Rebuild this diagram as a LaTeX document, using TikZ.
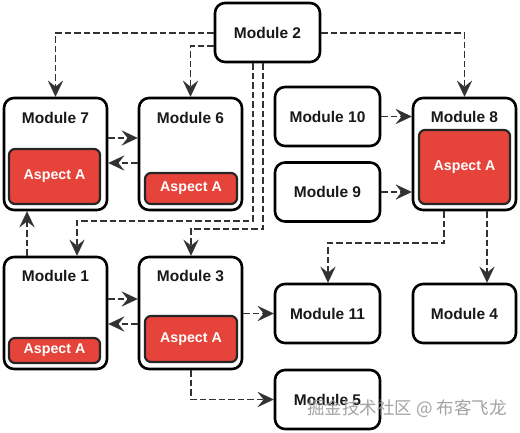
\documentclass[tikz,border=0pt]{standalone}
\usepackage{fontspec}
\setmainfont{Liberation Sans}
\newfontfamily\cjk{Noto Sans CJK SC}
\usetikzlibrary{arrows.meta}
\definecolor{aspectred}{RGB}{230,68,58}
\definecolor{conngray}{RGB}{50,50,50}
\tikzset{
  modbox/.style={draw=black, line width=2.6pt, rounded corners=10pt, fill=white, inner sep=0pt},
  aspbox/.style={draw=black!85, line width=2.2pt, rounded corners=6pt, fill=aspectred, inner sep=0pt,
     text=white, font=\bfseries\fontsize{14.2}{16}\selectfont},
  modtext/.style={font=\bfseries\fontsize{15.5}{17}\selectfont, text=black!90},
  conn/.style={draw=conngray, line width=1.7pt, dash pattern=on 6.5pt off 3pt,
     -{Stealth[length=16pt,width=15pt,inset=6pt,line width=0.1pt,fill=conngray]}},
}
\begin{document}
\begin{tikzpicture}[x=1pt,y=-1pt]
\useasboundingbox[fill=white] (0,0) rectangle (520,432);

% simple modules
\node[modbox, modtext, minimum width=105pt, minimum height=59pt] (m2) at (267.5,32.5) {Module 2};
\node[modbox, modtext, minimum width=105pt, minimum height=59pt] (m10) at (327.5,116.5) {Module 10};
\node[modbox, modtext, minimum width=105pt, minimum height=59pt] (m9) at (327.5,192) {Module 9};
\node[modbox, modtext, minimum width=105pt, minimum height=59pt] (m11) at (327.5,313.5) {Module 11};
\node[modbox, modtext, minimum width=103pt, minimum height=59pt] (m4) at (464.5,313.5) {Module 4};
\node[modbox, modtext, minimum width=105pt, minimum height=59pt] (m5) at (327.5,399.5) {Module 5};

% modules with aspects
\node[modbox, minimum width=103pt, minimum height=112pt] (m7) at (55.5,154) {};
\node[modtext] (t7) at (55.5,118) {Module 7};
\node[aspbox, minimum width=91pt, minimum height=55pt] (a7) at (54.5,176.5) {Aspect A};

\node[modbox, minimum width=103pt, minimum height=112pt] (m6) at (190.5,154) {};
\node[modtext] (t6) at (190.5,118) {Module 6};
\node[aspbox, minimum width=92pt, minimum height=31pt] (a6) at (191,188.5) {Aspect A};

\node[modbox, minimum width=103pt, minimum height=112pt] (m8) at (464.5,154) {};
\node[modtext] (t8) at (464.5,117) {Module 8};
\node[aspbox, minimum width=91pt, minimum height=74pt] (a8) at (464.5,167) {Aspect A};

\node[modbox, minimum width=103pt, minimum height=112pt] (m1) at (55.5,313) {};
\node[modtext] (t1) at (55.5,276) {Module 1};
\node[aspbox, minimum width=91pt, minimum height=25pt] (a1) at (54.5,350.5) {Aspect A};

\node[modbox, minimum width=103pt, minimum height=112pt] (m3) at (190.5,313) {};
\node[modtext] (t3) at (190.5,276) {Module 3};
\node[aspbox, minimum width=92pt, minimum height=46pt] (a3) at (191,339) {Aspect A};

% connectors
\draw[conn] (m2.west |- 0,33) -| (m7.north);
\draw[conn] (m2.west |- 0,46) -| (m6.north);
\draw[conn] (m2.east |- 0,33) -| (m8.north);
\draw[conn] (m7.east |- 0,138) -- (m6.west |- 0,138);
\draw[conn] (m6.west |- 0,163) -- (m7.east |- 0,163);
\draw[conn] (m10.east) -- (m8.west |- m10.east);
\draw[conn] (m9.east) -- (m8.west |- m9.east);
\draw[conn] (m2.south -| 253,0) |- (77,221) -- (m1.north -| 77,0);
\draw[conn] (m2.south -| 263,0) |- (191,229) -- (m3.north -| 191,0);
\draw[conn] (m1.north -| 27,0) -- (m7.south -| 27,0);
\draw[conn] (m1.east |- 0,299) -- (m3.west |- 0,299);
\draw[conn] (m3.west |- 0,324) -- (m1.east |- 0,324);
\draw[conn] (m3.east |- m11.west) -- (m11.west);
\draw[conn] (m3.south -| 191,0) |- (m5.west);
\draw[conn] (m8.south -| 444,0) |- (328,243) -- (m11.north -| 328,0);
\draw[conn] (m8.south -| 487,0) -- (m4.north -| 487,0);

% watermark
\node[text=black!40, opacity=0.9, font=\cjk\fontsize{17.5}{19}\selectfont, inner sep=0pt] (wm) at (407,409) {掘金技术社区 @ 布客飞龙};
\end{tikzpicture}
\end{document}
